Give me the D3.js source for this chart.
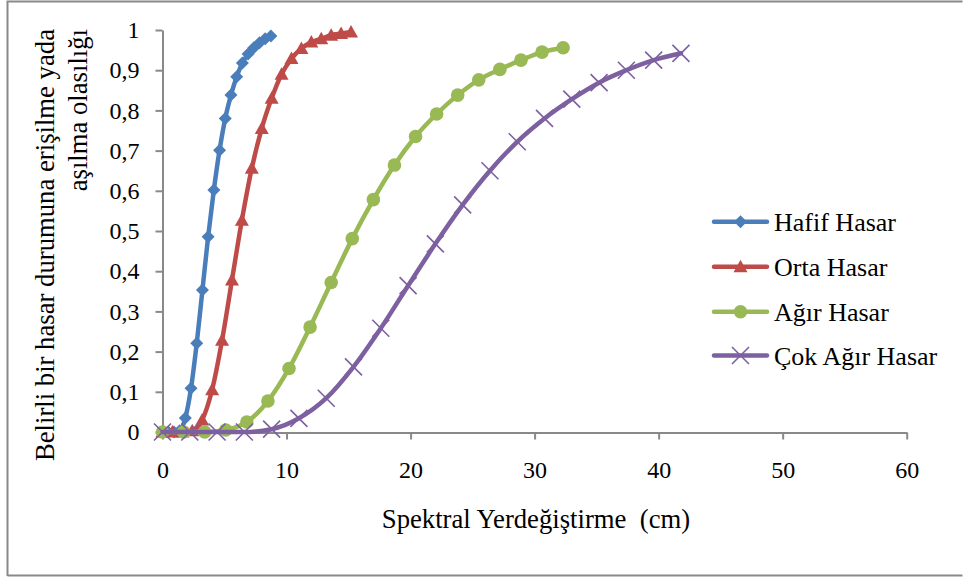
<!DOCTYPE html>
<html><head><meta charset="utf-8">
<script src="https://cdn.jsdelivr.net/npm/d3@7"></script>
<style>
html,body{margin:0;padding:0;background:#fff;}
text{font-family:"Liberation Serif","Times New Roman",serif;fill:#000;}
</style></head>
<body><svg id="c" width="963" height="578"></svg>
<script>
const seriesNames = ["Hafif Hasar","Orta Hasar","Ağır Hasar","Çok Ağır Hasar"];
const seriesColors = ["#4A7EBB","#BE4B48","#98B954","#7D60A0"];
const seriesMarkers = ["diamond","triangle","circle","x"];

const hafifX = [0,0.46,0.92,1.38,1.84,2.3,2.76,3.22,3.68,4.14,4.6,5.06,5.52,5.98,6.44,6.9,7.36,7.82,8.28,8.74];
const hafifY = [0,0,0,0.003,0.035,0.109,0.221,0.353,0.486,0.602,0.701,0.780,0.838,0.884,0.918,0.940,0.956,0.968,0.978,0.985];
const ortaX = [0,0.8,1.6,2.4,3.2,4,4.8,5.6,6.4,7.2,8,8.8,9.6,10.4,11.2,12,12.8,13.6,14.4,15.2];
const ortaY = [0,0,0,0.003,0.03,0.105,0.228,0.378,0.527,0.656,0.755,0.830,0.890,0.929,0.954,0.970,0.978,0.987,0.991,0.995];
const agirX = [0,1.7,3.4,5.1,6.8,8.5,10.2,11.9,13.6,15.3,17,18.7,20.4,22.1,23.8,25.5,27.2,28.9,30.6,32.3];
const agirY = [0,0,0,0.005,0.025,0.077,0.158,0.261,0.372,0.481,0.578,0.664,0.735,0.791,0.838,0.876,0.902,0.925,0.945,0.956];
const cokX = [0,2.2,4.4,6.6,8.8,11,13.2,15.4,17.6,19.8,22,24.2,26.4,28.6,30.8,33,35.2,37.4,39.6,41.8];
const cokY = [0,0,0,0,0.007,0.034,0.084,0.162,0.258,0.364,0.468,0.565,0.650,0.722,0.780,0.828,0.869,0.900,0.925,0.942];

const xTicks = [0,10,20,30,40,50,60];
const yTicks = [0,0.1,0.2,0.3,0.4,0.5,0.6,0.7,0.8,0.9,1];
const xTitle = "Spektral Yerdeğiştirme  (cm)";
const yTitleLines = ["Belirli bir hasar durumuna erişilme yada","aşılma olasılığı"];

const seriesX = [hafifX, ortaX, agirX, cokX];
const seriesY = [hafifY, ortaY, agirY, cokY];

const svg = d3.select("#c");
const axisColor = "#898989";

// outer frame
svg.append("path")
  .attr("d","M7.5,576 L7.5,1.5 L962.5,1.5 M7.5,575.5 L962.5,575.5")
  .attr("fill","none").attr("stroke",axisColor).attr("stroke-width",2);

const x = d3.scaleLinear().domain([0,60]).range([162.5,906.7]);
const y = d3.scaleLinear().domain([0,1]).range([432,30]);

const fmt = d => d===0?"0":(d===1?"1":String(d).replace(".",","));

const gy = svg.append("g").attr("transform","translate(162.5,0)")
  .call(d3.axisLeft(y).tickValues(yTicks).tickSize(7).tickSizeOuter(0).tickPadding(16).tickFormat(fmt));
const gx = svg.append("g").attr("transform","translate(0,432.5)")
  .call(d3.axisBottom(x).tickValues(xTicks).tickSize(7).tickSizeOuter(0).tickPadding(21).tickFormat(d3.format("d")));
[gx,gy].forEach(g=>{
  g.selectAll("path.domain").attr("stroke",axisColor).attr("stroke-width",2);
  g.selectAll(".tick line").attr("stroke",axisColor).attr("stroke-width",2);
  g.selectAll("text").attr("font-size",24).attr("font-family","Liberation Serif, Times New Roman, serif").attr("fill","#000");
});

// titles
svg.append("text").attr("x",536).attr("y",528).attr("text-anchor","middle")
  .attr("font-size",26.7).style("white-space","pre").attr("xml:space","preserve").text(xTitle);
const yt = svg.append("g");
yTitleLines.forEach((t,i)=>{
  yt.append("text").attr("transform",`translate(${54+i*33},29) rotate(-90)`)
    .attr("text-anchor","end").attr("font-size",26.7).text(t);
});

function drawMarker(g, type, color, cx, cy){
  if(type==="diamond"){
    g.append("path").attr("d",`M${cx},${cy-6.5}L${cx+6.5},${cy}L${cx},${cy+6.5}L${cx-6.5},${cy}Z`).attr("fill",color);
  } else if(type==="triangle"){
    g.append("path").attr("d",`M${cx},${cy-7}L${cx+7},${cy+5.5}L${cx-7},${cy+5.5}Z`).attr("fill",color);
  } else if(type==="circle"){
    g.append("circle").attr("cx",cx).attr("cy",cy).attr("r",6.8).attr("fill",color);
  } else {
    g.append("path").attr("d",`M${cx-8.5},${cy-8.5}L${cx+8.5},${cy+8.5}M${cx-8.5},${cy+8.5}L${cx+8.5},${cy-8.5}`)
      .attr("stroke",color).attr("stroke-width",1.6).attr("fill","none");
  }
}

const line = d3.line().x(d=>x(d[0])).y(d=>y(d[1])).curve(d3.curveMonotoneX);
seriesNames.forEach((name,si)=>{
  const pts = seriesX[si].map((v,i)=>[v, seriesY[si][i]]);
  const g = svg.append("g");
  g.append("path").attr("d",line(pts)).attr("fill","none")
    .attr("stroke",seriesColors[si]).attr("stroke-width",4.5).attr("stroke-linejoin","round").attr("stroke-linecap","round");
  pts.forEach(p=>drawMarker(g, seriesMarkers[si], seriesColors[si], x(p[0]), y(p[1])));
});

// legend
const legRows = [221.7,266.7,311.7,355.5];
seriesNames.forEach((name,si)=>{
  const g = svg.append("g");
  const ly = legRows[si];
  g.append("line").attr("x1",714).attr("x2",767).attr("y1",ly).attr("y2",ly)
    .attr("stroke",seriesColors[si]).attr("stroke-width",4.5).attr("stroke-linecap","round");
  drawMarker(g, seriesMarkers[si], seriesColors[si], 740.5, ly);
  g.append("text").attr("x",774).attr("y",ly+9).attr("font-size",26).text(name);
});
</script></body></html>
